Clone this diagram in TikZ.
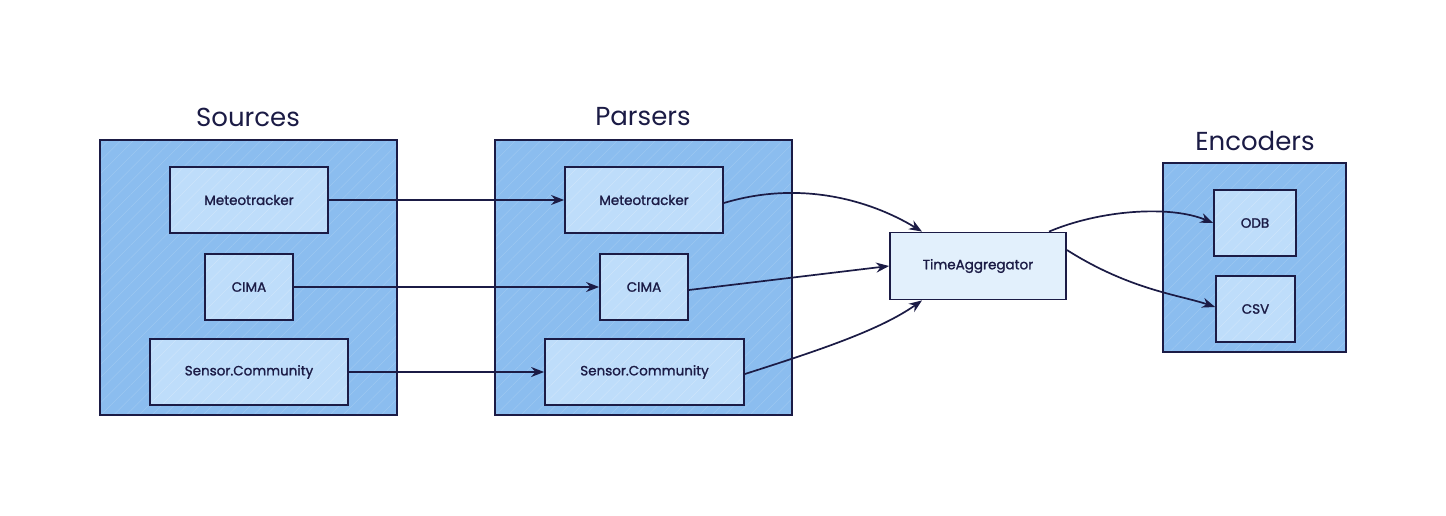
\documentclass[tikz,border=0pt]{standalone}
\usepackage{fontspec}
\setmainfont{Poppins}
\newfontfamily\medfont[FakeBold=1.3]{Poppins}
\usetikzlibrary{arrows.meta,patterns.meta}
\definecolor{ink}{HTML}{1B1B45}
\definecolor{groupfill}{HTML}{8BBDEF}
\definecolor{boxfill}{HTML}{BEDDFA}
\definecolor{aggfill}{HTML}{E2F0FC}
\tikzset{
  group/.style={draw=ink, line width=2.2pt, preaction={fill=groupfill},
    preaction={pattern={Lines[angle=45,distance=9pt,line width=0.35pt]}, pattern color=groupfill!80!white}},
  inner/.style={draw=ink, line width=1.8pt, preaction={fill=boxfill}, font=\medfont\fontsize{13.5}{16}\selectfont, text=ink,
    preaction={pattern={Lines[angle=45,distance=9pt,line width=0.35pt]}, pattern color=boxfill!70!white}},
  agg/.style={draw=ink, line width=1.8pt, fill=aggfill, font=\medfont\fontsize{13.5}{16}\selectfont, text=ink},
  title/.style={font=\fontsize{26}{30}\selectfont, text=ink},
  conn/.style={draw=ink, line width=1.7pt, -{Stealth[length=13pt,width=10pt]}},
}
\begin{document}
\begin{tikzpicture}[x=1pt,y=-1pt]
\useasboundingbox[fill=white] (0,0) rectangle (1446,516);
% groups
\path[group] (100,140) rectangle (397,415);
\path[group] (495,140) rectangle (792,415);
\path[group] (1163,163) rectangle (1346,352);
\node[title] (tsrc) at (248,117) {Sources};
\node[title] (tpar) at (643,117) {Parsers};
\node[title] (tenc) at (1255,141) {Encoders};
% source boxes
\node[inner, minimum width=158pt, minimum height=66pt] (sm) at (249,200) {Meteotracker};
\node[inner, minimum width=88pt, minimum height=66pt] (sc) at (249,287) {CIMA};
\node[inner, minimum width=198pt, minimum height=66pt] (ss) at (249,372) {Sensor.Community};
% parser boxes
\node[inner, minimum width=158pt, minimum height=66pt] (pm) at (644,200) {Meteotracker};
\node[inner, minimum width=88pt, minimum height=66pt] (pc) at (644,287) {CIMA};
\node[inner, minimum width=199pt, minimum height=66pt] (ps) at (644.5,372) {Sensor.Community};
% aggregator
\node[agg, minimum width=176pt, minimum height=67pt] (ta) at (978,266) {TimeAggregator};
% encoders
\node[inner, minimum width=82pt, minimum height=66pt] (odb) at (1255,223) {ODB};
\node[inner, minimum width=79pt, minimum height=66pt] (csv) at (1255.5,309) {CSV};
% connectors
\draw[conn] (sm.east) -- (pm.west);
\draw[conn] (sc.east) -- (pc.west);
\draw[conn] (ss.east) -- (ps.west);
\draw[conn] ([yshift=-3pt]pm.east) .. controls (800,180) and (870,200) .. ([xshift=-56pt]ta.north);
\draw[conn] ([yshift=-3pt]pc.east) -- (ta.west);
\draw[conn] ([yshift=-2pt]ps.east) .. controls (820,350) and (880,330) .. ([xshift=-56pt]ta.south);
\draw[conn] ([xshift=71pt]ta.north) .. controls (1100,210) and (1170,205) .. (odb.west);
\draw[conn] ([yshift=16pt]ta.east) .. controls (1130,290) and (1180,295) .. ([yshift=2pt]csv.west);
\end{tikzpicture}
\end{document}
